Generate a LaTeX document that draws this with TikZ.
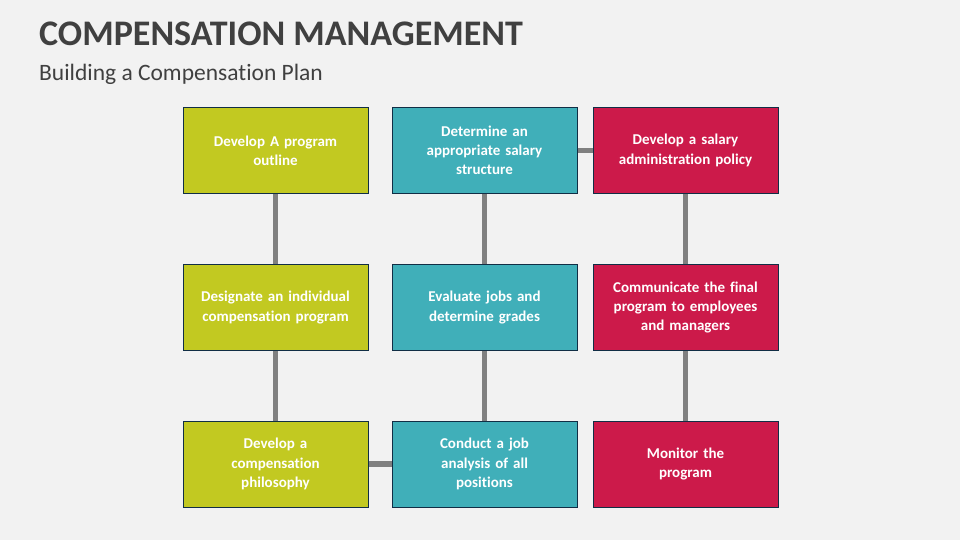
\documentclass[tikz,border=0pt]{standalone}
\usepackage{fontspec}
\setmainfont{Carlito}[Ligatures=NoCommon]
\definecolor{bgc}{HTML}{F2F2F2}
\definecolor{titlec}{HTML}{404040}
\definecolor{greenc}{HTML}{C2C921}
\definecolor{tealc}{HTML}{40AFB9}
\definecolor{redc}{HTML}{CC1A4A}
\definecolor{edgec}{HTML}{112E45}
\definecolor{linec}{HTML}{808080}
\tikzset{
  stepbox/.style={draw=edgec, line width=1pt, minimum width=185pt, minimum height=86pt,
    inner sep=0pt, text width=165pt, align=center, text=white,
    font=\fontsize{15}{19.2}\selectfont\bfseries},
  gbox/.style={stepbox, fill=greenc},
  tbox/.style={stepbox, fill=tealc},
  rbox/.style={stepbox, fill=redc},
  conn/.style={draw=linec, line width=5.5pt}
}
\begin{document}
\begin{tikzpicture}[x=1pt,y=-1pt]
\fill[bgc] (0,0) rectangle (960,540);
\useasboundingbox (0,0) rectangle (960,540);
\node[anchor=base west, text=titlec, font=\fontsize{36}{40}\selectfont\bfseries, inner sep=0pt] (title) at (39,46) {COMPENSATION MANAGEMENT};
\node[anchor=base west, text=titlec, font=\fontsize{23.5}{26}\selectfont, inner sep=0pt] (sub) at (39,81) {Building a Compensation Plan};
% boxes
\node[gbox] (a1) at (275.5,150.5) {Develop A program\\outline};
\node[gbox] (a2) at (275.5,307.5) {Designate an individual\\compensation program};
\node[gbox] (a3) at (275.5,464) {Develop a\\compensation\\philosophy};
\node[tbox] (b1) at (484.5,150.5) {Determine an\\appropriate salary\\structure};
\node[tbox] (b2) at (484.5,307.5) {Evaluate jobs and\\determine grades};
\node[tbox] (b3) at (484.5,464) {Conduct a job\\analysis of all\\positions};
\node[rbox] (c1) at (685.5,150.5) {Develop a salary\\administration policy};
\node[rbox] (c2) at (685.5,307.5) {Communicate the final\\program to employees\\and managers};
\node[rbox] (c3) at (685.5,464) {Monitor the\\program};
% connectors
\draw[conn] (a1.south) -- (a2.north);
\draw[conn] (a2.south) -- (a3.north);
\draw[conn] (b1.south) -- (b2.north);
\draw[conn] (b2.south) -- (b3.north);
\draw[conn] (c1.south) -- (c2.north);
\draw[conn] (c2.south) -- (c3.north);
\draw[conn] (b1.east) -- (c1.west);
\draw[conn] (a3.east) -- (b3.west);
\end{tikzpicture}
\end{document}
